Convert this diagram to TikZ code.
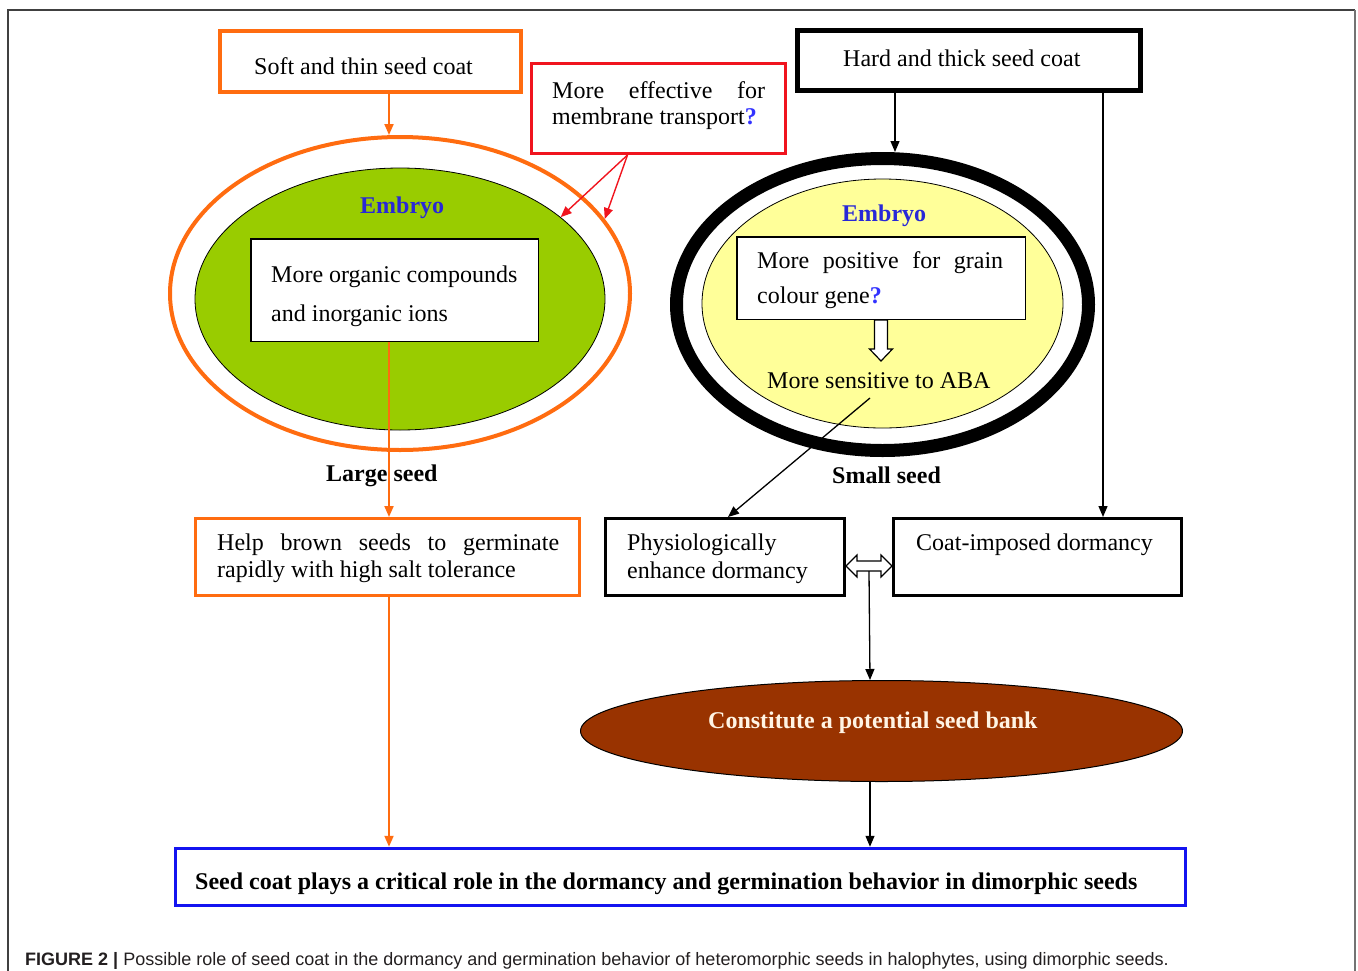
\documentclass[tikz,border=0pt]{standalone}
\usepackage{fontspec}
\setmainfont{Liberation Serif}
\newfontfamily\capfont{Liberation Sans}
\usetikzlibrary{arrows.meta,shapes.geometric,calc}
\definecolor{cOrange}{RGB}{255,108,16}
\definecolor{cRed}{RGB}{240,20,30}
\definecolor{cGreen}{RGB}{153,204,0}
\definecolor{cYellow}{RGB}{255,255,153}
\definecolor{cBrown}{RGB}{153,51,0}
\definecolor{cBlue}{RGB}{20,20,240}
\definecolor{cEmb}{RGB}{40,40,215}
\definecolor{cQ}{RGB}{50,50,255}
\definecolor{cCream}{RGB}{255,244,228}
\definecolor{cCap}{RGB}{35,31,32}
\newcommand{\mfs}{\fontsize{24pt}{28pt}\selectfont}
\newcommand{\qm}{\textcolor{cQ}{\textbf{?}}}
\begin{document}
\begin{tikzpicture}[x=1pt,y=-1pt,
  box/.style={draw,rectangle,inner sep=0pt,fill=white},
  ell/.style={draw,ellipse,inner sep=0pt},
  txt/.style={anchor=base west,inner sep=0pt,font=\mfs},
  btxt/.style={anchor=base west,inner sep=0pt,font=\mfs\bfseries},
  oarrow/.style={draw=cOrange,line width=2pt,-{Triangle[length=11pt,width=9pt]}},
  rarrow/.style={draw=cRed,line width=1.4pt,-{Triangle[length=11pt,width=9pt]}},
  barrow/.style={draw=black,line width=1.3pt,-{Triangle[length=11pt,width=9pt]}},
  hollow/.style={draw=black,line width=1.2pt,fill=white,line join=miter}]
\useasboundingbox (0,0) rectangle (1358,970);
% frame
\draw[draw=black!75,line width=1.2pt] (8,980) -- (8,10) -- (1355,10);
\draw[draw=black!55,line width=2.5pt] (1355,10) -- (1355,980);
% column coordinates
\coordinate (cL) at (389,0);
\coordinate (cR) at (895,0);
\coordinate (cC) at (1103,0);
\coordinate (cM) at (870,0);
% top boxes
\node[box,draw=cOrange,line width=4pt,minimum width=301pt,minimum height=61pt] (soft) at (370.5,61.5) {};
\node[txt] (softT) at (254,74) {Soft and thin seed coat};
\node[box,draw=cRed,line width=3pt,minimum width=254pt,minimum height=90pt] (red) at (658.5,108.5) {};
\node[txt] (redT1) at (552,98) {\makebox[213pt][s]{More effective for}};
\node[txt] (redT2) at (552,124) {membrane transport\qm};
\node[box,draw=black,line width=5pt,minimum width=343pt,minimum height=60pt] (hard) at (969,60.5) {};
\node[txt] (hardT) at (843,66) {Hard and thick seed coat};
% left ellipse
\node[ell,draw=cOrange,line width=4pt,fill=white,minimum width=460pt,minimum height=313pt] (lout) at (400,293.5) {};
\node[ell,draw=black,line width=0.8pt,fill=cGreen,minimum width=410pt,minimum height=262pt] (lin) at (400,299) {};
\node[btxt,text=cEmb] (embL) at (360,213) {Embryo};
\node[box,draw=black,line width=1.5pt,minimum width=287.5pt,minimum height=102.5pt] (org) at (394.5,290) {};
\node[txt] (orgT1) at (271,282) {More organic compounds};
\node[txt] (orgT2) at (271,321) {and inorganic ions};
% right ellipse
\node[ell,draw=black,line width=13pt,fill=white,minimum width=412pt,minimum height=292pt] (rout) at (882.5,304.5) {};
\node[ell,draw=black,line width=0.8pt,fill=cYellow,minimum width=361pt,minimum height=249pt] (rin) at (882.5,303.5) {};
\node[btxt,text=cEmb] (embR) at (842,221) {Embryo};
\node[box,draw=black,line width=1.5pt,minimum width=288.5pt,minimum height=82.5pt] (gene) at (881,278) {};
\node[txt] (geneT1) at (757,268) {\makebox[246pt][s]{More positive for grain}};
\node[txt] (geneT2) at (757,303) {colour gene\qm};
\node[txt] (aba) at (767,388) {More sensitive to ABA};
\draw[hollow] ($(gene.south)+(-6.5,0)$) -- ++(0,29) -- ++(-5,0) -- ($(gene.south)+(0,41)$) -- ($(gene.south)+(11.5,29)$) -- ++(-5,0) -- ++(0,-29) -- cycle;
% seed labels
\node[btxt] (large) at (326,481) {Large seed};
\node[btxt] (small) at (832,483) {Small seed};
% middle boxes
\node[box,draw=cOrange,line width=3pt,minimum width=384pt,minimum height=77pt] (help) at (387.5,557) {};
\node[txt] (helpT1) at (217,550) {\makebox[342pt][s]{Help brown seeds to germinate}};
\node[txt] (helpT2) at (217,577) {rapidly with high salt tolerance};
\node[box,draw=black,line width=3pt,minimum width=239pt,minimum height=77pt] (phys) at (725,557) {};
\node[txt] (physT1) at (627,550) {Physiologically};
\node[txt] (physT2) at (627,578) {enhance dormancy};
\node[box,draw=black,line width=3pt,minimum width=288pt,minimum height=77pt] (coat) at (1037.5,557) {};
\node[txt] (coatT) at (916,550) {Coat-imposed dormancy};
% bank
\node[ell,draw=black,line width=1pt,fill=cBrown,minimum width=602pt,minimum height=101pt] (bank) at (881.5,731) {};
\node[btxt,text=cCream] (bankT) at (708,728) {Constitute a potential seed bank};
% conclusion
\node[box,draw=cBlue,line width=3.5pt,minimum width=1010pt,minimum height=57pt] (concl) at (680.5,877) {};
\node[btxt] (conclT) at (195,889) {Seed coat plays a critical role in the dormancy and germination behavior in dimorphic seeds};
% connectors
\draw[oarrow] (soft.south -| cL) -- (lout.north -| cL);
\coordinate (rfork) at ($(red.south)+(-31,0)$);
\draw[rarrow] (rfork) -- (lin.27);
\draw[rarrow] (rfork) -- (lout.20);
\draw[barrow] (hard.south -| cR) -- (rout.north -| cR);
\draw[barrow] (hard.south -| cC) -- (coat.north -| cC);
\draw[oarrow] (org.south -| cL) -- (help.north -| cL);
\coordinate (abaS) at (870,398);
\draw[barrow] (abaS) -- ($(phys.north)+(3,0)$);
% double hollow arrow
\coordinate (dA) at ($(phys.east)+(0,9)$);
\coordinate (dB) at ($(coat.west)+(0,9)$);
\draw[hollow] ($(dA)+(0,0)$) -- ++(11,-11) -- ++(0,6) -- ($(dB)+(-11,-5)$) -- ++(0,-6) -- (dB) -- ++(-11,11) -- ++(0,-6) -- ($(dA)+(11,5)$) -- ++(0,6) -- cycle;
\draw[barrow] ($(dA)!0.5!(dB)+(0,5)$) -- (bank.north -| cM);
\draw[barrow] (bank.south -| cM) -- (concl.north -| cM);
\draw[oarrow] (help.south -| cL) -- (concl.north -| cL);
% caption
\node[anchor=base west,inner sep=0pt,text=cCap,font=\capfont\fontsize{18pt}{21pt}\selectfont] (cap) at (25,965) {\textbf{FIGURE 2 |} Possible role of seed coat in the dormancy and germination behavior of heteromorphic seeds in halophytes, using dimorphic seeds.};
\end{tikzpicture}
\end{document}
